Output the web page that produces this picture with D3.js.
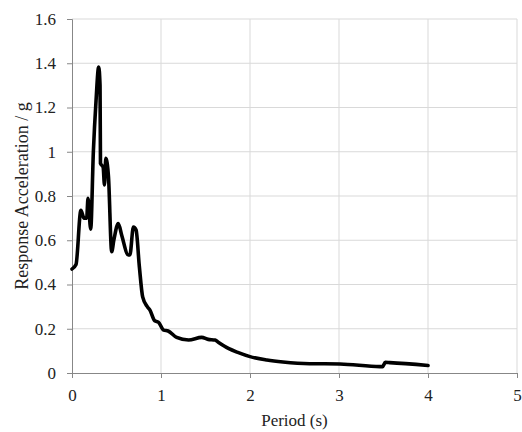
<!DOCTYPE html>
<html>
<head>
<meta charset="utf-8">
<script src="https://cdn.jsdelivr.net/npm/d3@7"></script>
<style>
  html, body { margin: 0; padding: 0; background: #fff; }
  svg { display: block; }
</style>
</head>
<body>
<svg id="chart" width="522" height="432"></svg>
<script>
// Response spectrum: period (s) against spectral acceleration (g)
const periods = [0.00, 0.045, 0.10, 0.135, 0.165, 0.18, 0.21, 0.24, 0.27, 0.30, 0.315, 0.32, 0.35, 0.365, 0.38, 0.41,
  0.446, 0.47, 0.52, 0.56, 0.633, 0.65, 0.69, 0.72, 0.757, 0.794, 0.846, 0.876, 0.93, 0.97, 1.03, 1.08, 1.176,
  1.31, 1.457, 1.53, 1.607, 1.64, 1.757, 1.87, 2.00, 2.19, 2.37, 2.67, 3.01, 3.46, 3.49, 3.52, 3.57, 4.00];
const accelerations = [0.47, 0.49, 0.735, 0.70, 0.70, 0.79, 0.65, 1.00, 1.23, 1.383, 1.30, 0.947, 0.93, 0.85, 0.97, 0.886,
  0.548, 0.60, 0.676, 0.62, 0.533, 0.533, 0.66, 0.646, 0.48, 0.344, 0.30, 0.284, 0.236, 0.23, 0.194, 0.19, 0.161,
  0.149, 0.161, 0.152, 0.149, 0.14, 0.111, 0.092, 0.074, 0.059, 0.05, 0.042, 0.041, 0.029, 0.029, 0.048, 0.047, 0.034];
const xTicks = [0, 1, 2, 3, 4, 5];
const yTicks = [0, 0.2, 0.4, 0.6, 0.8, 1, 1.2, 1.4, 1.6];

const data = periods.map((p, i) => ({ p, a: accelerations[i] }));

const margin = { left: 72, right: 5, top: 19, bottom: 59 };
const W = 522, H = 432;
const serif = '"Liberation Serif"';
const svg = d3.select("#chart");

const x = d3.scaleLinear().domain([0, 5]).range([margin.left, W - margin.right]);
const y = d3.scaleLinear().domain([0, 1.6]).range([H - margin.bottom, margin.top]);

// grid
svg.append("g").selectAll("line").data(xTicks.slice(1)).join("line")
  .attr("x1", d => x(d)).attr("x2", d => x(d))
  .attr("y1", y(0)).attr("y2", y(1.6))
  .attr("stroke", "#d9d9d9").attr("stroke-width", 1);
svg.append("g").selectAll("line").data(yTicks.slice(1)).join("line")
  .attr("x1", x(0)).attr("x2", x(5))
  .attr("y1", d => y(d)).attr("y2", d => y(d))
  .attr("stroke", "#d9d9d9").attr("stroke-width", 1);

// axes
const xAxis = d3.axisBottom(x).tickValues(xTicks).tickSize(5).tickPadding(11).tickFormat(d3.format("d"));
const yAxis = d3.axisLeft(y).tickValues(yTicks).tickSize(5).tickPadding(11).tickFormat(d => String(d));

const gx = svg.append("g").attr("transform", `translate(0,${y(0)})`).call(xAxis);
const gy = svg.append("g").attr("transform", `translate(${x(0)},0)`).call(yAxis);
[gx, gy].forEach(g => {
  g.attr("font-family", null).attr("font-size", null);
  g.select(".domain").attr("stroke", "#878787").attr("stroke-width", 1);
  g.selectAll(".tick line").attr("stroke", "#878787");
  g.selectAll(".tick text").style("font-family", serif).style("font-size", "17px").attr("fill", "#222");
});

// curve
svg.append("path").datum(data)
  .attr("fill", "none").attr("stroke", "#000").attr("stroke-width", 3.6)
  .attr("stroke-linejoin", "round").attr("stroke-linecap", "round")
  .attr("d", d3.line().x(d => x(d.p)).y(d => y(d.a)).curve(d3.curveMonotoneX));

// axis titles
svg.append("text").attr("x", (x(0) + x(5)) / 2).attr("y", 426)
  .attr("text-anchor", "middle").attr("fill", "#222").style("font-family", serif).style("font-size", "17px").text("Period (s)");
svg.append("text")
  .attr("transform", `translate(28,${(y(0) + y(1.6)) / 2}) rotate(-90)`)
  .attr("text-anchor", "middle").attr("fill", "#222").style("font-family", serif).style("font-size", "18px").text("Response Acceleration / g");
</script>
</body>
</html>
